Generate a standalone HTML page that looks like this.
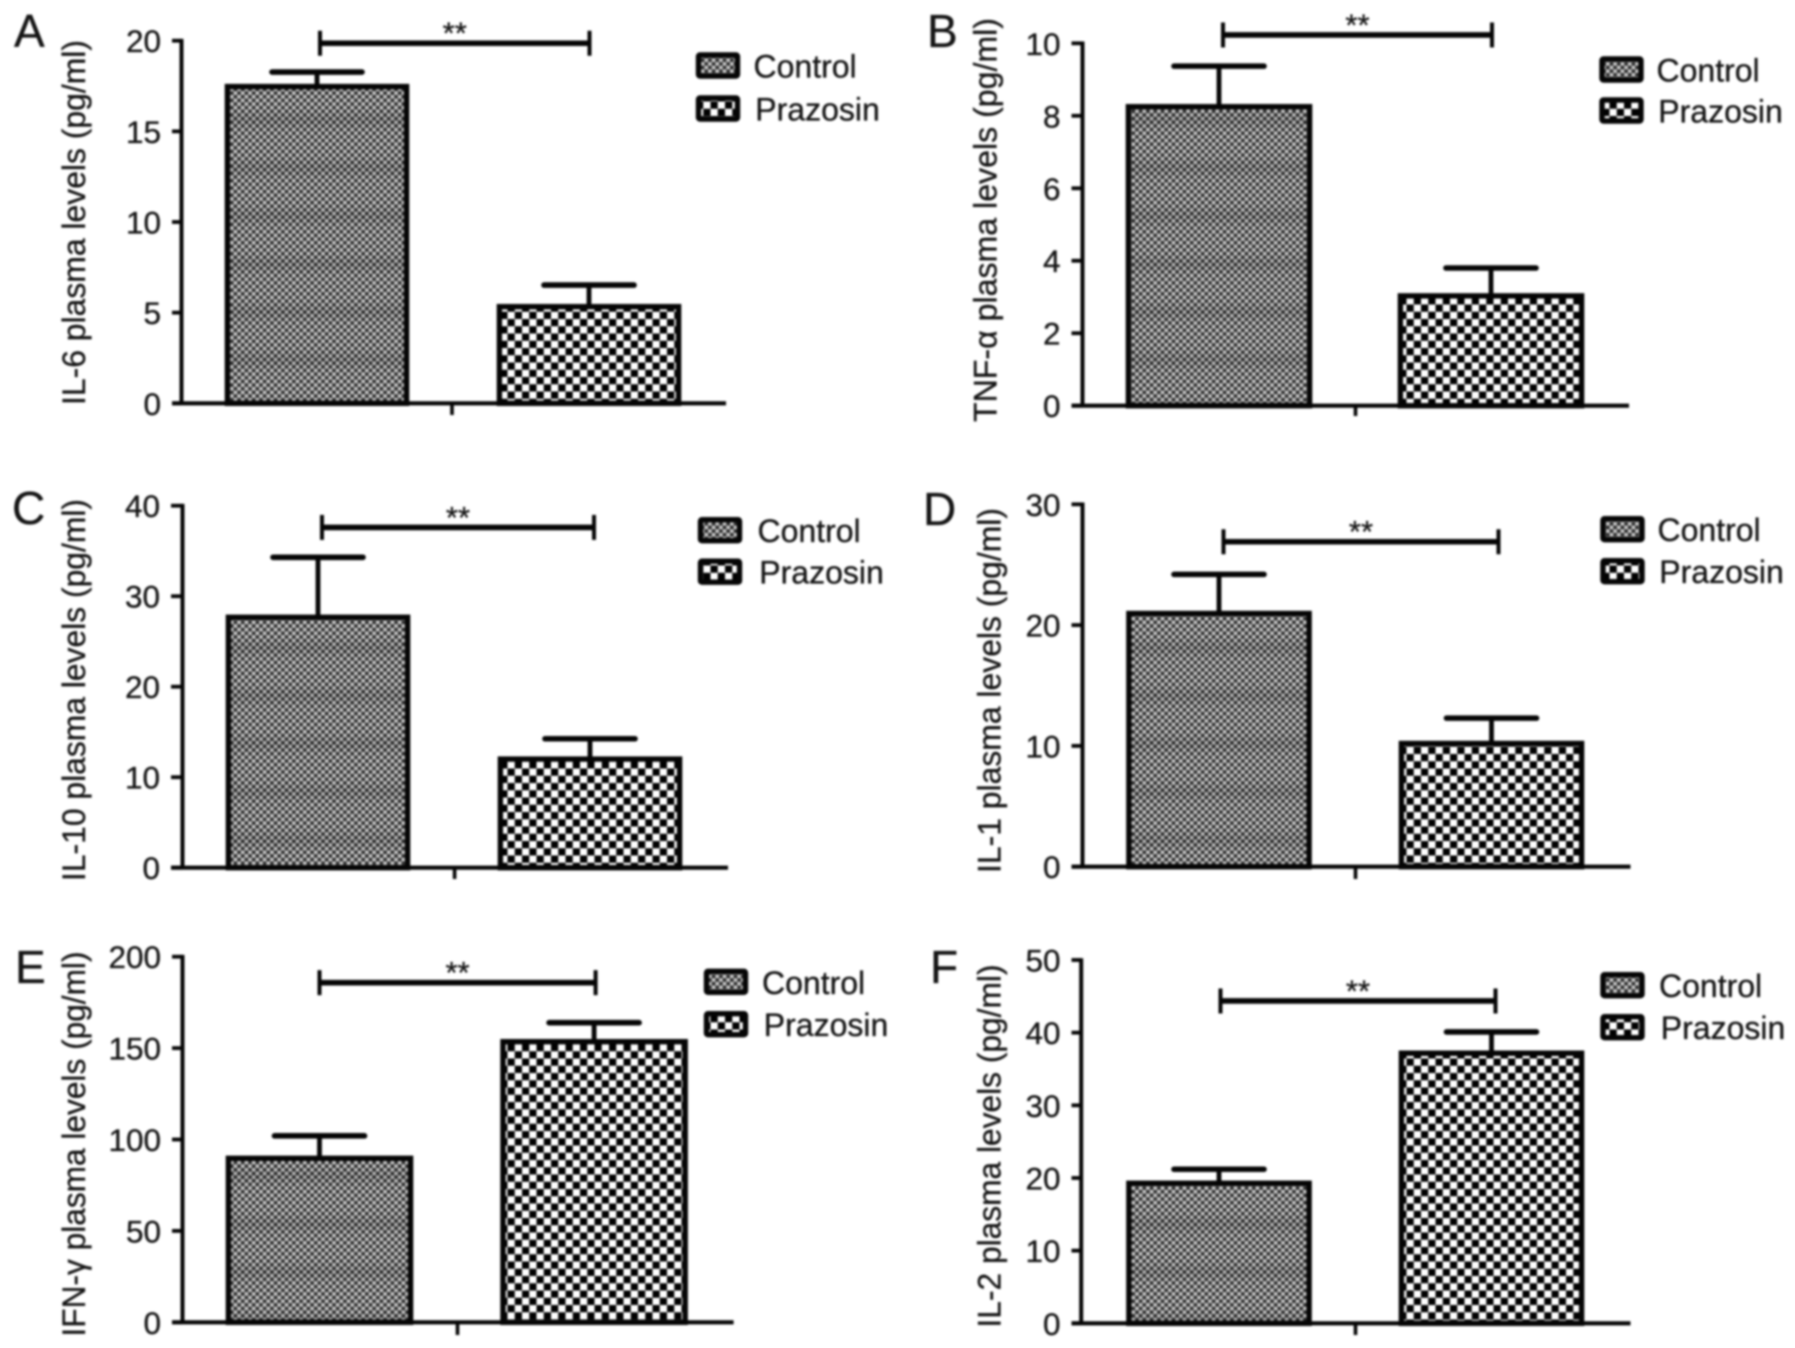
<!DOCTYPE html>
<html lang="en">
<head>
<meta charset="utf-8">
<title>Plasma cytokine levels: Control vs Prazosin</title>
<style>
html,body{margin:0;padding:0;background:#fff;}
body{width:1795px;height:1348px;overflow:hidden;}
#figure{display:block;filter:blur(0.95px);}
text{font-family:"Liberation Sans",Arial,sans-serif;fill:#141414;stroke:#141414;stroke-width:0.3px;}
</style>
</head>
<body>
<svg id="figure" xmlns="http://www.w3.org/2000/svg" width="1795" height="1348" viewBox="0 0 1795 1348">
  <defs>
    <pattern id="fill-control" patternUnits="userSpaceOnUse" width="7.3" height="7.3">
      <rect width="7.3" height="7.3" fill="#cacaca"/>
      <rect width="3.65" height="3.65" fill="#2c2c2c"/>
      <rect x="3.65" y="3.65" width="3.65" height="3.65" fill="#2c2c2c"/>
    </pattern>
    <pattern id="fill-prazosin" patternUnits="userSpaceOnUse" width="14.5" height="14.5">
      <rect width="14.5" height="14.5" fill="#ffffff"/>
      <rect width="7.25" height="7.25" fill="#000000"/>
      <rect x="7.25" y="7.25" width="7.25" height="7.25" fill="#000000"/>
    </pattern>
    <linearGradient id="band-grad" x1="0" y1="0" x2="0" y2="1">
      <stop offset="0" stop-color="#000" stop-opacity="0"/>
      <stop offset="0.5" stop-color="#000" stop-opacity="0.12"/>
      <stop offset="1" stop-color="#000" stop-opacity="0"/>
    </linearGradient>
    <pattern id="fill-bands" patternUnits="userSpaceOnUse" width="20" height="48">
      <rect width="20" height="22" y="13" fill="url(#band-grad)"/>
    </pattern>
  </defs>
</svg>
<script>
// ---------- data ----------
const panelLetters = ['A', 'B', 'C', 'D', 'E', 'F'];
const seriesNames = ['Control', 'Prazosin'];
const yAxisTitles = ['IL-6 plasma levels (pg/ml)', 'TNF-α plasma levels (pg/ml)', 'IL-10 plasma levels (pg/ml)', 'IL-1 plasma levels (pg/ml)', 'IFN-γ plasma levels (pg/ml)', 'IL-2 plasma levels (pg/ml)'];

const yTicksA = [0, 5, 10, 15, 20];
const yTicksB = [0, 2, 4, 6, 8, 10];
const yTicksC = [0, 10, 20, 30, 40];
const yTicksD = [0, 10, 20, 30];
const yTicksE = [0, 50, 100, 150, 200];
const yTicksF = [0, 10, 20, 30, 40, 50];

const controlMeans = [17.47, 8.25, 27.67, 20.96, 89.7, 19.27];
const controlUpperErrors = [18.27, 9.37, 34.3, 24.2, 102, 21.2];
const prazosinMeans = [5.33, 3.03, 12.0, 10.2, 153.5, 37.17];
const prazosinUpperErrors = [6.52, 3.8, 14.25, 12.3, 163.9, 40.1];
const significanceLevels = [19.86, 10.23, 37.6, 26.9, 185.8, 44.36];
const significanceLabels = ['**', '**', '**', '**', '**', '**'];

const yTickSets = [yTicksA, yTicksB, yTicksC, yTicksD, yTicksE, yTicksF];

// ---------- page layout of each panel (not data) ----------
const panelFrames = [
  {axisX:181.5, axisL:172, axisR:726, yTop:40.7, y0:403.3, c0:317, step:272, barW:184, tickX:452, tickB:415, lx:696, ly:52.5, gap:43, tx:753.5, titleX:85, titleMid:222.5, titleLen:365, letterX:14, letterY:47, bl:3, br:0.5},
  {axisX:1082.5, axisL:1071.5, axisR:1629, yTop:43.3, y0:405.7, c0:1219, step:272, barW:186, tickX:1355.5, tickB:416, lx:1599.5, ly:56.5, gap:41, tx:1656.5, titleX:996.5, titleMid:220, titleLen:404, letterX:927, letterY:47, bl:4, br:1},
  {axisX:182.5, axisL:171, axisR:728, yTop:505.7, y0:867.7, c0:318, step:272, barW:184, tickX:454.6, tickB:879, lx:698, ly:517.2, gap:41.5, tx:757.5, titleX:85, titleMid:690, titleLen:382, letterX:12, letterY:524, bl:4, br:4},
  {axisX:1082.5, axisL:1071.5, axisR:1630.5, yTop:504.3, y0:866.7, c0:1219, step:272.5, barW:185, tickX:1355.5, tickB:879, lx:1600.5, ly:516.2, gap:42, tx:1657.5, titleX:1000.5, titleMid:690.5, titleLen:365, letterX:923, letterY:525, bl:4.5, br:7},
  {axisX:182.5, axisL:172, axisR:733.6, yTop:956.7, y0:1322.3, c0:319.5, step:274.6, barW:187, tickX:457.5, tickB:1335, lx:704, ly:968.8, gap:42.4, tx:762, titleX:85, titleMid:1144, titleLen:385, letterX:15, letterY:983, bl:0, br:1.5},
  {axisX:1081.2, axisL:1071.5, axisR:1630.5, yTop:960, y0:1323.3, c0:1219, step:272.5, barW:185, tickX:1355.5, tickB:1335, lx:1600.5, ly:972.2, gap:42, tx:1659, titleX:1000.5, titleMid:1146, titleLen:363, letterX:930, letterY:983, bl:1.5, br:4}
];

const SVG_NS = 'http://www.w3.org/2000/svg';
const INK = '#050505';
const figure = document.getElementById('figure');

function make(tag, attrs, parent) {
  const node = document.createElementNS(SVG_NS, tag);
  Object.keys(attrs).forEach(function (k) { node.setAttribute(k, attrs[k]); });
  parent.appendChild(node);
  return node;
}
function line(parent, x1, y1, x2, y2, width, cap) {
  return make('line', {x1: x1, y1: y1, x2: x2, y2: y2, stroke: INK, 'stroke-width': width, 'stroke-linecap': cap || 'butt'}, parent);
}
// axis functions
function yScale(frame, ticks) {
  const max = ticks[ticks.length - 1];
  return function (v) { return frame.y0 - (v / max) * (frame.y0 - frame.yTop); };
}
function xScale(frame) {
  return function (i) { return frame.c0 + i * frame.step; };
}

panelLetters.forEach(function (letter, p) {
  const f = panelFrames[p];
  const ticks = yTickSets[p];
  const y = yScale(f, ticks);
  const x = xScale(f);
  const id = letter.toLowerCase();

  const g = make('g', {}, figure);
  
  

  const label = make('text', {x: f.letterX, y: f.letterY, 'font-size': 46}, g);
  label.textContent = letter;
  
  

  // y-axis title
  const title = make('text', {
    transform: 'translate(' + f.titleX + ',' + f.titleMid + ') rotate(-90)',
    'text-anchor': 'middle', 'font-size': 32, fill: '#222',
    textLength: f.titleLen, lengthAdjust: 'spacingAndGlyphs'
  }, g);
  title.textContent = yAxisTitles[p];
  
  

  // bars (drawn first so the axis sits on top)
  const seriesMeans = [controlMeans[p], prazosinMeans[p]];
  const seriesUppers = [controlUpperErrors[p], prazosinUpperErrors[p]];
  seriesNames.forEach(function (name, s) {
    const key = name.toLowerCase();
    const cx = x(s);
    const top = y(seriesMeans[s]);
    const capY = y(seriesUppers[s]);

    const stem = line(g, cx, capY, cx, top, 4.8);
    
    

    const cap = line(g, cx - 45, capY, cx + 45, capY, 5.6, 'round');
    
    

    const bar = make('rect', {
      x: cx - f.barW / 2 + 2.4, y: top,
      width: f.barW - 4.8, height: f.y0 - top,
      fill: 'url(#fill-' + key + ')', stroke: INK, 'stroke-width': 5.4
    }, g);
    
    

    if (s === 0) {
      const bands = make('rect', {
        x: cx - f.barW / 2 + 5, y: top + 2.7,
        width: f.barW - 10, height: Math.max(0, f.y0 - top - 4.7),
        fill: 'url(#fill-bands)'
      }, g);
      
      
    }
  });

  // axes
  const yAxis = line(g, f.axisX, f.yTop - 1.8, f.axisX, f.y0, 4);
  
  

  const xAxis = line(g, f.axisL, f.y0, f.axisR, f.y0, 4.2);
  
  

  const xTick = line(g, f.tickX, f.y0, f.tickX, f.tickB, 3.6);
  
  

  ticks.forEach(function (t) {
    const ty = y(t);
    const tickMark = line(g, f.axisL, ty, f.axisX, ty, 3.8);
    
    

    const tickLabel = make('text', {x: f.axisL - 11, y: ty + 11.5, 'text-anchor': 'end', 'font-size': 31.5}, g);
    tickLabel.textContent = String(t);
    
    
  });

  // significance bracket
  const by = y(significanceLevels[p]);
  const bxL = x(0) + f.bl;
  const bxR = x(1) + f.br;
  const bracket = line(g, bxL, by, bxR, by, 5.6);
  
  

  const bracketLeft = line(g, bxL, by - 12.5, bxL, by + 12.5, 4);
  
  

  const bracketRight = line(g, bxR, by - 12.5, bxR, by + 12.5, 4);
  
  

  const stars = make('text', {x: (bxL + bxR) / 2, y: by + 0.5, 'text-anchor': 'middle', 'font-size': 31}, g);
  stars.textContent = significanceLabels[p];
  
  

  // legend
  seriesNames.forEach(function (name, s) {
    const key = name.toLowerCase();
    const ly = f.ly + s * f.gap;
    const swatch = make('rect', {
      x: f.lx + 2.5, y: ly + 2.5, width: 39, height: 21, rx: 1.5,
      fill: 'url(#fill-' + key + ')', stroke: INK, 'stroke-width': 5.4
    }, g);
    
    

    const entry = make('text', {x: f.tx + s * 1.8, y: ly + 25, 'font-size': 32}, g);
    entry.textContent = name;
    
    
  });
});
</script>
</body>
</html>
